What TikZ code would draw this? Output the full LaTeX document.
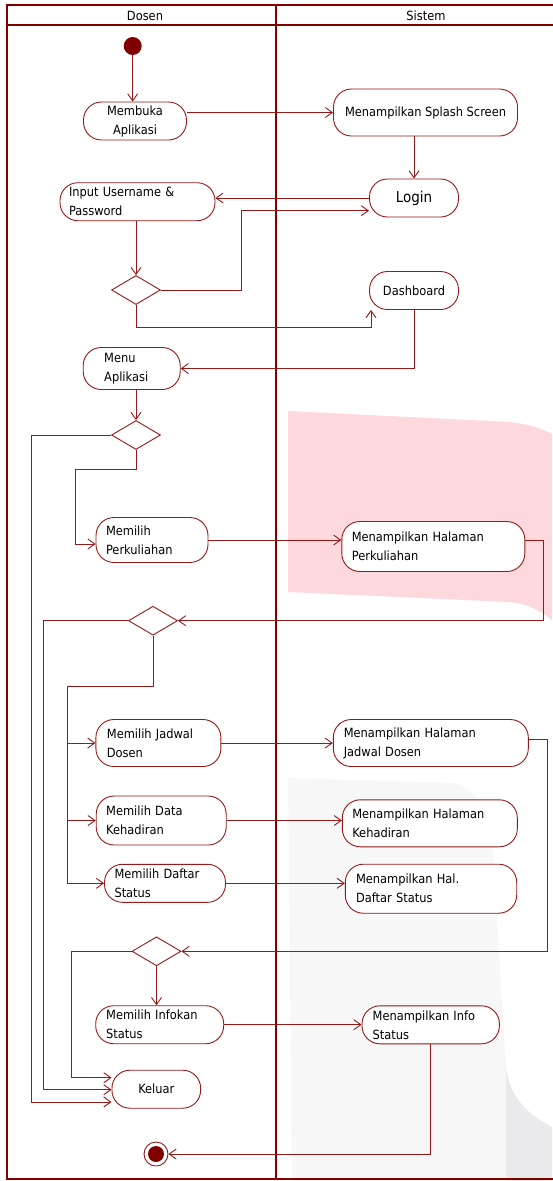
\documentclass[tikz,border=0pt]{standalone}
\usepackage{fontspec}
\setmainfont{DejaVu Sans}[FakeStretch=0.9]
\usetikzlibrary{arrows.meta,shapes.geometric,calc}
\definecolor{laneRed}{RGB}{128,0,0}
\definecolor{lineRed}{RGB}{150,25,25}
\definecolor{markPink}{RGB}{253,216,220}
\definecolor{markGrey}{RGB}{247,247,248}
\definecolor{markGreyDark}{RGB}{234,234,237}
\tikzset{
  act/.style={draw=lineRed, line width=0.9pt, fill=white, rounded corners=18pt,
    font=\fontsize{12.7}{19}\selectfont, align=left, inner ysep=0pt},
  decision/.style={diamond, draw=lineRed, line width=0.9pt, fill=white,
    minimum width=49pt, minimum height=29pt, inner sep=0pt},
  flow/.style={draw=lineRed, line width=0.9pt, -{Straight Barb[length=7pt,width=10pt]}},
  lane/.style={draw=laneRed, line width=2.5pt},
  laneTitle/.style={font=\fontsize{12.7}{14}\selectfont, inner sep=0pt},
}
\begin{document}
\begin{tikzpicture}[x=1pt, y=-1pt]
  \useasboundingbox (0,0) rectangle (552,1181);

  % watermark
  \fill[markPink] (288,411) -- (509,422) .. controls (530,424) and (545,430) .. (552,434)
    -- (552,620) .. controls (540,610) and (525,603) .. (509,602) -- (288,592) -- cycle;
  \fill[markGrey] (288,778) -- (456,783) .. controls (478,790) and (492,820) .. (493,850)
    -- (506,1067) -- (506,1181) -- (292,1181) -- cycle;
  \fill[markGreyDark] (506,1067) .. controls (510,1100) and (530,1115) .. (552,1127)
    -- (552,1181) -- (506,1181) -- cycle;

  % swimlanes
  \draw[lane] (556,5) -- (7,5) -- (7,1179) -- (556,1179);
  \draw[laneRed, line width=1.8pt] (7,25) -- (556,25);
  \draw[lane] (276,5) -- (276,1179);
  \node[laneTitle] (laneDosen) at (145,16) {Dosen};
  \node[laneTitle] (laneSistem) at (426,16) {Sistem};

  % start and end
  \node[circle, fill=laneRed, minimum size=18pt, inner sep=0pt] (start) at (132.7,46) {};
  \node[circle, draw=lineRed, line width=0.9pt, fill=white, minimum size=24pt, inner sep=0pt] (stop) at (156,1154) {};
  \fill[laneRed] (stop.center) circle (8);

  % activities
  \node[act, align=center, minimum width=103pt, minimum height=38pt] (buka) at (135,121) {Membuka\\Aplikasi};
  \node[act, align=center, minimum width=184pt, minimum height=47pt] (splash) at (425.5,112.5) {Menampilkan Splash Screen};
  \node[act, align=center, minimum width=89pt, minimum height=38pt, font=\fontsize{15}{16}\selectfont] (login) at (414,198) {Login};
  \node[act, text width=137pt, inner xsep=9pt, minimum height=38pt] (input) at (137.5,201.7) {Input Username \&\\Password};
  \node[act, align=center, minimum width=89pt, minimum height=38pt] (dash) at (414,290.5) {Dashboard};
  \node[act, text width=55pt, inner xsep=21pt, minimum height=42pt] (menu) at (131.7,368.5) {Menu\\Aplikasi};
  \node[act, text width=92pt, inner xsep=10pt, minimum height=45pt] (pilihKuliah) at (152,540) {Memilih\\Perkuliahan};
  \node[act, text width=163pt, inner xsep=10pt, minimum height=50pt] (tampilKuliah) at (433.3,546.5) {Menampilkan Halaman\\Perkuliahan};
  \node[act, text width=103pt, inner xsep=11pt, minimum height=47pt] (pilihJadwal) at (158.4,743) {Memilih Jadwal\\Dosen};
  \node[act, text width=174pt, inner xsep=10.5pt, minimum height=47pt] (tampilJadwal) at (430.8,743) {Menampilkan Halaman\\Jadwal Dosen};
  \node[act, text width=110pt, inner xsep=10pt, minimum height=49pt] (pilihHadir) at (161.2,820.5) {Memilih Data\\Kehadiran};
  \node[act, text width=155pt, inner xsep=10pt, minimum height=47pt] (tampilHadir) at (429.8,823.3) {Menampilkan Halaman\\Kehadiran};
  \node[act, text width=101pt, inner xsep=10pt, minimum height=38pt] (pilihStatus) at (165,883.3) {Memilih Daftar\\Status};
  \node[act, text width=150pt, inner xsep=10.7pt, minimum height=49pt] (tampilStatus) at (431,888.7) {Menampilkan Hal.\\Daftar Status};
  \node[act, text width=107pt, inner xsep=10.5pt, minimum height=38pt] (pilihInfo) at (159.7,1024.7) {Memilih Infokan\\Status};
  \node[act, text width=116pt, inner xsep=10.7pt, minimum height=38pt] (tampilInfo) at (430.7,1024.8) {Menampilkan Info\\Status};
  \node[act, align=center, minimum width=88.7pt, minimum height=38pt] (keluar) at (156.3,1089.2) {Keluar};

  % decisions
  \node[decision] (d1) at (136,290) {};
  \node[decision] (d2) at (136,435) {};
  \node[decision] (d3) at (153,620.7) {};
  \node[decision] (d4) at (156.5,951.3) {};

  % bends
  \coordinate (j1) at (241,210.7);
  \coordinate (j2) at (371,327.7);
  \coordinate (j3) at (75.7,469);
  \coordinate (j4) at (543.3,540.3);
  \coordinate (j5) at (67.3,686.7);
  \coordinate (j6) at (547.5,739.3);
  \coordinate (k1) at (31.3,1102);
  \coordinate (k2) at (43.3,1089.7);
  \coordinate (k3) at (71.8,1077.7);

  % flows
  \draw[flow] (start) -- (start |- buka.north);
  \draw[flow] (buka.east |- splash.west) -- (splash.west);
  \draw[flow] (login.north |- splash.south) -- (login.north);
  \draw[flow] (login.west) -- (login.west -| input.east);
  \draw[flow] (d1.north |- input.south) -- (d1.north);
  \draw[flow] (d1.east) -| (j1) -- (j1 -| login.west);
  \draw[flow] (d1.south) |- (j2) -- (j2 |- dash.south);
  \draw[flow] (dash.south) |- (menu.east);
  \draw[flow] (d2.north |- menu.south) -- (d2.north);
  \draw[flow] (d2.west) -| (k1) -- (k1 -| keluar.west);
  \draw[flow] (d2.south) |- (j3) |- ($(pilihKuliah.west)+(0,4)$);
  \draw[flow] (pilihKuliah.east) -- (pilihKuliah.east -| tampilKuliah.west);
  \draw[flow] (tampilKuliah.east |- j4) -- (j4) |- (d3.east);
  \draw[flow] (d3.west) -| (k2) -- (k2 -| keluar.west);
  \draw[flow] (d3.south) |- (j5) |- (pilihStatus.west);
  \draw[flow] (j5 |- pilihJadwal.west) -- (pilihJadwal.west);
  \draw[flow] (j5 |- pilihHadir.west) -- (pilihHadir.west);
  \draw[flow] (pilihJadwal.east) -- (pilihJadwal.east -| tampilJadwal.west);
  \draw[flow] (pilihHadir.east) -- (pilihHadir.east -| tampilHadir.west);
  \draw[flow] (pilihStatus.east) -- (pilihStatus.east -| tampilStatus.west);
  \draw[flow] (tampilJadwal.east |- j6) -- (j6) |- (d4.east);
  \draw[flow] (d4.west) -| (k3) -- (k3 -| keluar.west);
  \draw[flow] (d4.south) -- (d4.south |- pilihInfo.north);
  \draw[flow] (pilihInfo.east) -- (pilihInfo.east -| tampilInfo.west);
  \draw[flow] (tampilInfo.south) |- (stop.east);
\end{tikzpicture}
\end{document}
